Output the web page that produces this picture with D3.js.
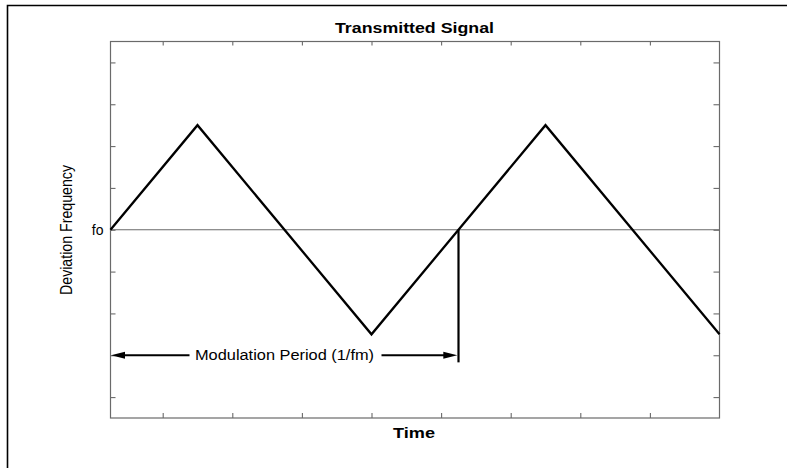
<!DOCTYPE html>
<html>
<head>
<meta charset="utf-8">
<script src="https://cdn.jsdelivr.net/npm/d3@7"></script>
<style>
  html, body { margin: 0; padding: 0; background: #fff; }
  svg { display: block; font-family: "Liberation Sans", Arial, sans-serif; }
</style>
</head>
<body>
<svg id="chart" width="787" height="468"></svg>
<script>
// Triangular FM sweep: time (in grid units) and deviation from the carrier fo
const signalTime = [0, 1.25, 3.75, 5, 6.25, 8.75];
const signalDeviation = [0, 2.5, -2.5, 0, 2.5, -2.5];

// One modulation period, marked with a double arrow
const periodStart = 0;
const periodEnd = 5;
const periodArrowLevel = -3;
const periodMarkerBottom = -3.17;
const periodLabel = "Modulation Period (1/fm)";

// Axis ticks and labels
const timeTicks = [0.75, 1.75, 2.75, 3.75, 4.75, 5.75, 6.75, 7.75];
const deviationTicks = [-4, -3, -2, -1, 0, 1, 2, 3, 4];
const carrierLabel = "fo";
const titleText = "Transmitted Signal";
const xLabelText = "Time";
const yLabelText = "Deviation Frequency";

const svg = d3.select("#chart");
const plot = { left: 110.5, right: 719.5, top: 41.5, bottom: 418 };
const axisGray = "#6a6a6a";

const x = d3.scaleLinear().domain([0, 8.75]).range([plot.left, plot.right]);
const y = d3.scaleLinear().domain([-4.5, 4.5]).range([plot.bottom, plot.top]);

// Outer frame (open at right and bottom)
svg.append("path")
  .attr("d", "M7.5,470V5.5H790")
  .attr("fill", "none")
  .attr("stroke", "#000")
  .attr("stroke-width", 1.6);

// Plot frame
svg.append("rect")
  .attr("x", plot.left).attr("y", plot.top)
  .attr("width", plot.right - plot.left)
  .attr("height", plot.bottom - plot.top)
  .attr("fill", "none")
  .attr("stroke", axisGray)
  .attr("stroke-width", 1.2);

// Inward ticks on all four sides
function styleAxis(g) {
  g.select(".domain").remove();
  g.selectAll(".tick line").attr("stroke", axisGray).attr("stroke-width", 1.1);
}
svg.append("g").attr("transform", `translate(0,${plot.bottom})`)
  .call(d3.axisTop(x).tickValues(timeTicks).tickSize(5).tickFormat(""))
  .call(styleAxis);
svg.append("g").attr("transform", `translate(0,${plot.top})`)
  .call(d3.axisBottom(x).tickValues(timeTicks).tickSize(4).tickFormat(""))
  .call(styleAxis);
const leftAxis = svg.append("g").attr("transform", `translate(${plot.left},0)`)
  .call(d3.axisLeft(y).tickValues(deviationTicks).tickSize(-5).tickPadding(7)
    .tickFormat(d => d === 0 ? carrierLabel : ""))
  .call(styleAxis);
leftAxis.selectAll(".tick text")
  .attr("fill", "#000")
  .style("font-size", "14px")
  .style("font-family", "'Liberation Sans', Arial, sans-serif");
svg.append("g").attr("transform", `translate(${plot.right},0)`)
  .call(d3.axisRight(y).tickValues(deviationTicks).tickSize(-6).tickFormat(""))
  .call(styleAxis);

// Carrier reference line at fo
svg.append("line")
  .attr("x1", plot.left).attr("x2", plot.right)
  .attr("y1", y(0)).attr("y2", y(0))
  .attr("stroke", axisGray)
  .attr("stroke-width", 1.2);

// Signal
const signal = signalTime.map((t, i) => [t, signalDeviation[i]]);
svg.append("path")
  .datum(signal)
  .attr("d", d3.line().x(d => x(d[0])).y(d => y(d[1])))
  .attr("fill", "none")
  .attr("stroke", "#000")
  .attr("stroke-width", 2.3)
  .attr("stroke-linejoin", "miter");

// Period marker: vertical line at end of period
svg.append("line")
  .attr("x1", x(periodEnd)).attr("x2", x(periodEnd))
  .attr("y1", y(0)).attr("y2", y(periodMarkerBottom))
  .attr("stroke", "#000")
  .attr("stroke-width", 2.2);

// Period arrow with gap for its label
const ay = y(periodArrowLevel);
const labelX = x((periodStart + periodEnd) / 2);
const label = svg.append("text")
  .attr("x", labelX).attr("y", ay + 5)
  .attr("text-anchor", "middle")
  .style("font-size", "14px")
  .attr("textLength", 179)
  .attr("lengthAdjust", "spacingAndGlyphs")
  .text(periodLabel);
const half = 179 / 2;
const gapL = labelX - half - 5.5;
const gapR = labelX + half + 7.5;
const headLen = 14, headHalf = 3.5;
const x0 = x(periodStart) + 0.5, x1 = x(periodEnd) - 1.2;
svg.append("line")
  .attr("x1", x0 + headLen - 1).attr("x2", gapL)
  .attr("y1", ay).attr("y2", ay)
  .attr("stroke", "#000").attr("stroke-width", 2.2);
svg.append("line")
  .attr("x1", gapR).attr("x2", x1 - headLen + 1)
  .attr("y1", ay).attr("y2", ay)
  .attr("stroke", "#000").attr("stroke-width", 2.2);
svg.append("path")
  .attr("d", `M${x0},${ay}L${x0 + headLen},${ay - headHalf}L${x0 + headLen},${ay + headHalf}Z`)
  .attr("fill", "#000");
svg.append("path")
  .attr("d", `M${x1},${ay}L${x1 - headLen},${ay - headHalf}L${x1 - headLen},${ay + headHalf}Z`)
  .attr("fill", "#000");

// Title and axis labels
svg.append("text")
  .attr("x", 414.5).attr("y", 32.7)
  .attr("text-anchor", "middle")
  .style("font-size", "14.5px")
  .style("font-weight", "bold")
  .attr("textLength", 159)
  .attr("lengthAdjust", "spacingAndGlyphs")
  .text(titleText);

svg.append("text")
  .attr("x", 414).attr("y", 438)
  .attr("text-anchor", "middle")
  .style("font-size", "15px")
  .style("font-weight", "bold")
  .attr("textLength", 42)
  .attr("lengthAdjust", "spacingAndGlyphs")
  .text(xLabelText);

svg.append("text")
  .attr("transform", `translate(71.5,230) rotate(-90) scale(1,1.12)`)
  .attr("text-anchor", "middle")
  .style("font-size", "14px")
  .attr("textLength", 130)
  .attr("lengthAdjust", "spacingAndGlyphs")
  .text(yLabelText);
</script>
</body>
</html>
